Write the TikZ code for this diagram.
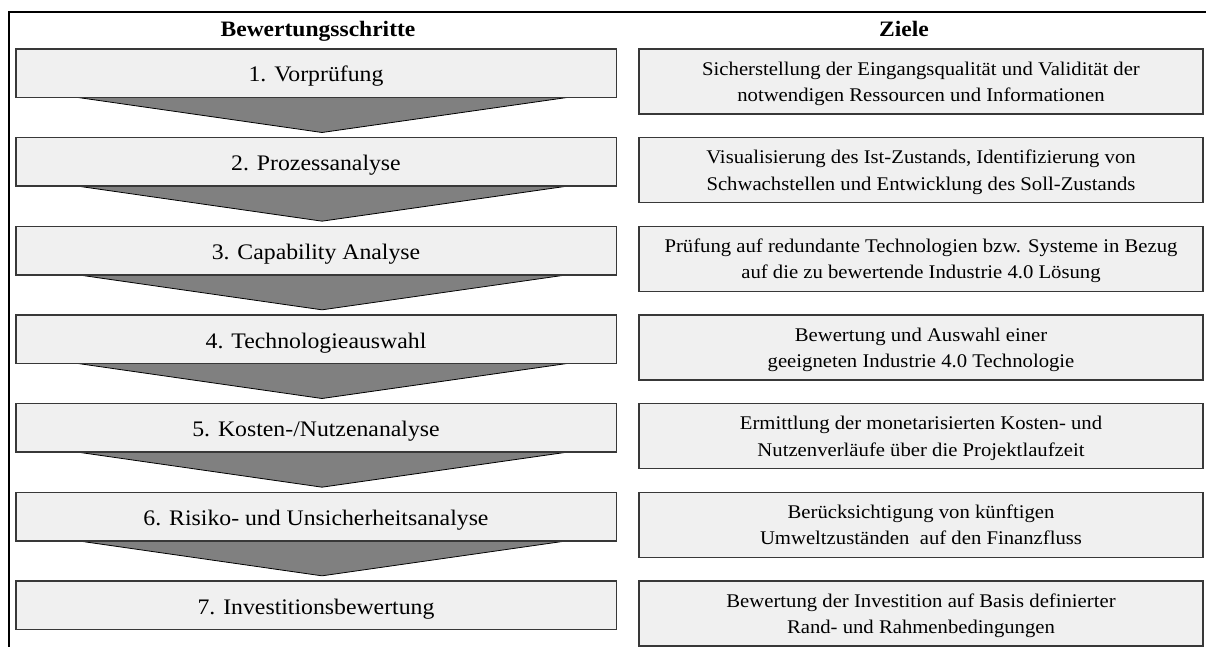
\documentclass[tikz,border=0pt]{standalone}
\usepackage{fontspec}
\setmainfont[FakeStretch=1.07]{Liberation Serif}
\usetikzlibrary{calc}
\definecolor{boxfill}{HTML}{F0F0F0}
\definecolor{boxline}{HTML}{383838}
\definecolor{arrowfill}{HTML}{808080}
\begin{document}
\begin{tikzpicture}[x=1pt,y=-1pt,
  stepbox/.style={draw=boxline, line width=1.5pt, fill=boxfill,
    minimum width=600.5pt, minimum height=48.5pt, inner sep=0pt,
    text height=17.5pt, text depth=0pt,
    font=\fontsize{22.2}{26}\selectfont},
  goalbox/.style={draw=boxline, line width=1.5pt, fill=boxfill,
    minimum width=564pt, minimum height=65pt, inner sep=0pt, align=center,
    text depth=0pt,
    font=\fontsize{19.35}{26.4}\selectfont},
  flowarrow/.style={draw=black, line width=0.8pt, fill=arrowfill, line join=miter},
  headline/.style={font=\fontsize{22}{26}\selectfont\bfseries, inner sep=0pt, anchor=base},
  frameline/.style={line width=2pt, black}
  ]
\useasboundingbox (0,0) rectangle (1206,647);

% frame: top rule and left rule
\coordinate (frameTL) at (8.7,12);
\coordinate (frameTR) at (1206,12);
\coordinate (frameBL) at (8.7,647);
\draw[frameline] (frameTR) -- (frameTL) -- (frameBL);

% column headings
\node[headline] (hSteps) at (318,37) {Bewertungsschritte};
\node[headline] (hGoals) at (904,37) {Ziele};

% steps (left) and goals (right)
\foreach \i/\steptext/\goaltext in {
  1/{1. Vorprüfung}/{Sicherstellung der Eingangsqualität und Validität der\\notwendigen Ressourcen und Informationen},
  2/{2. Prozessanalyse}/{Visualisierung des Ist-Zustands, Identifizierung von\\Schwachstellen und Entwicklung des Soll-Zustands},
  3/{3. Capability Analyse}/{Prüfung auf redundante Technologien bzw. Systeme in Bezug\\auf die zu bewertende Industrie 4.0 Lösung},
  4/{4. Technologieauswahl}/{Bewertung und Auswahl einer\\geeigneten Industrie 4.0 Technologie},
  5/{5. Kosten-/Nutzenanalyse}/{Ermittlung der monetarisierten Kosten- und\\Nutzenverläufe über die Projektlaufzeit},
  6/{6. Risiko- und Unsicherheitsanalyse}/{Berücksichtigung von künftigen\\Umweltzuständen\ \ auf den Finanzfluss},
  7/{7. Investitionsbewertung}/{Bewertung der Investition auf Basis definierter\\Rand- und Rahmenbedingungen}} {
  \pgfmathsetmacro{\ytop}{49+(\i-1)*88.667}
  \ifnum\i<7
    % downward arrow below the step box
    \coordinate (aL\i) at (78,\ytop+48.5);
    \coordinate (aR\i) at (567,\ytop+48.5);
    \coordinate (aT\i) at (322,\ytop+83.5);
    \filldraw[flowarrow] (aL\i) -- (aT\i) -- (aR\i) -- cycle;
  \fi
  \node[stepbox] (step\i) at (316,\ytop+24.25) {\steptext};
  \node[goalbox] (goal\i) at (921,\ytop+32.5) {\goaltext};
}
\end{tikzpicture}
\end{document}
